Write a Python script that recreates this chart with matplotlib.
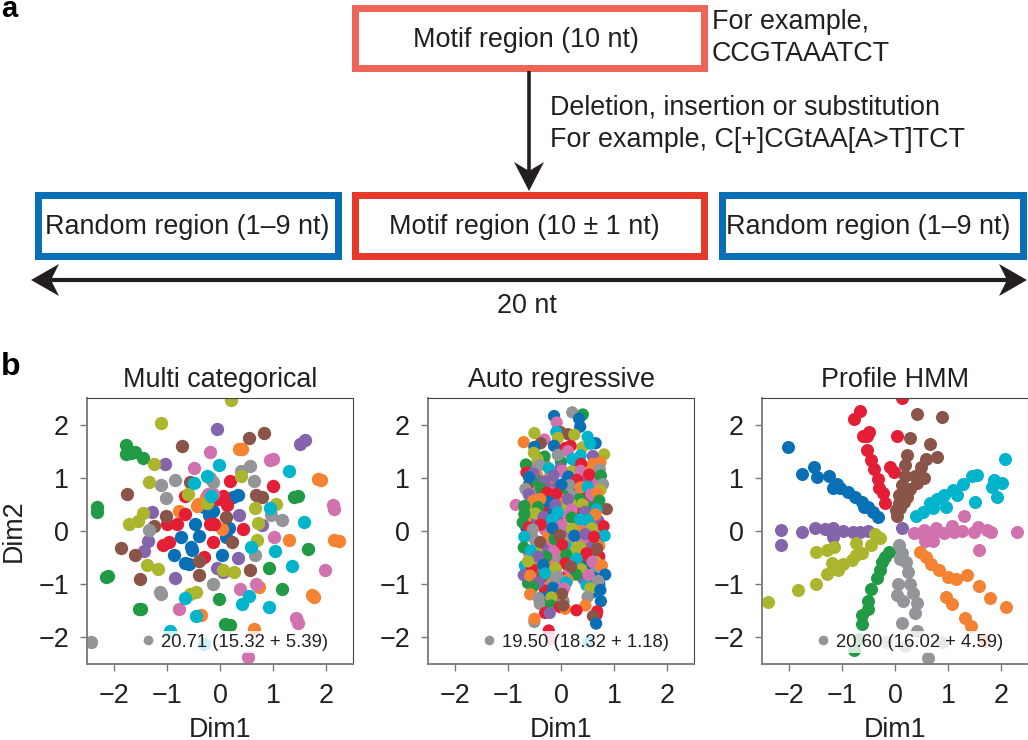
import matplotlib
matplotlib.use('Agg')
import matplotlib.pyplot as plt
from matplotlib.lines import Line2D
from matplotlib.patches import Polygon, Rectangle

plt.rcParams['font.family'] = ['Liberation Sans', 'DejaVu Sans']

palette = {'b': '#0a70b5', 'o': '#f58233', 'g': '#229a45', 'r': '#e41f35', 'p': '#8465ac',
           'n': '#8a5548', 'k': '#d172ae', 'y': '#939598', 'l': '#acb52e', 'c': '#00b4cc'}
ink = '#231f20'

# Multi categorical
mc_points = {
    'b': [(0.33, 0.68), (0.25, 0.64), (-0.30, 0.46), (-0.21, 0.31), (-0.14, 0.38), (-0.47, 0.14), (0.16, 0.06),
          (0.11, -0.11), (-0.74, -0.11), (-0.39, -0.10), (-0.55, -0.31), (-0.53, -0.36), (-0.87, -0.45), (0.04, -0.45),
          (-0.66, -0.61), (-0.58, -0.62)],
    'o': [(0.36, 1.54), (0.42, 1.55), (1.89, 0.96), (1.84, 0.97), (-0.27, 0.64), (-0.44, 0.47), (-0.41, 0.51), (-0.78, 0.38),
          (0.04, 0.04), (1.30, -0.16), (2.14, -0.17), (2.23, -0.18), (0.74, -1.05), (1.73, -1.21), (1.76, -1.24),
          (-0.35, -1.57), (0.63, -1.84)],
    'g': [(-1.77, 1.62), (-1.76, 1.45), (-1.60, 1.49), (-1.67, 1.47), (-1.45, 1.37), (-2.31, 0.46), (-2.31, 0.36), (-2.15, -0.86),
          (-2.11, -0.84), (-1.53, -1.47), (-1.48, -1.46), (1.40, 0.64), (1.46, 0.66), (1.65, -0.33), (0.92, -0.69), (1.16, -1.09),
          (-0.01, -1.27), (0.09, -1.74), (0.18, -1.77)],
    'r': [(0.19, 0.94), (0.99, 0.84), (-0.65, 0.65), (0.05, 0.65), (-0.03, 0.60), (0.14, 0.48), (-0.65, 0.32), (-1.00, 0.13),
          (-0.80, 0.14), (-0.19, 0.13), (-0.11, 0.14), (0.43, 0.03), (-0.13, -0.21), (-0.96, -0.20), (-1.08, -0.27),
          (-0.30, -0.48)],
    'p': [(-0.05, 1.91), (1.60, 1.71), (1.51, 1.64), (-1.03, 1.26), (-1.28, 0.36), (0.36, 0.31), (0.79, 0.11), (-1.35, -0.19),
          (-1.42, -0.37), (0.33, -0.50), (-0.06, -0.69), (0.06, -0.77), (-0.84, -0.89)],
    'n': [(0.54, 1.74), (0.82, 1.84), (-0.71, 1.60), (-1.75, 0.69), (-0.57, 0.93), (0.68, 0.67), (0.79, 0.64), (-1.01, 0.28),
          (-1.25, 0.09), (0.11, 0.26), (0.23, -0.20), (-1.86, -0.32), (-1.59, -0.46), (-0.39, -0.56), (-0.40, -0.83),
          (-1.51, -0.91), (0.57, -0.74)],
    'k': [(-0.19, 1.49), (0.94, 1.34), (1.00, 1.36), (-0.49, 1.19), (-0.22, 0.70), (-0.13, 0.69), (2.12, 0.49), (2.15, 0.41), (1.01, -0.11),
          (1.97, -0.74), (0.68, -0.99), (0.37, -1.09), (-0.77, -1.47), (1.43, -1.63), (1.47, -1.73), (0.52, -2.37)],
    'y': [(0.57, 1.22), (0.39, 1.13), (-1.11, 0.86), (-0.84, 0.95), (-0.13, 0.93), (-0.18, 0.99), (0.63, 0.94), (-1.02, 0.62),
          (0.96, 0.30), (1.16, 0.21), (-1.33, 0.02), (0.66, -0.45), (-0.13, -0.99), (-1.12, -1.14), (-1.11, -1.18), (-2.42, -2.09)],
    'l': [(0.21, 2.47), (-1.10, 2.03), (-1.24, 1.26), (-1.33, 0.92), (0.39, 1.03), (-1.45, 0.34), (-1.54, 0.18), (-1.71, 0.13),
          (-0.61, 0.70), (-0.25, 0.53), (0.66, 0.43), (1.05, 0.50), (0.72, 0.15), (0.70, -0.17), (-1.38, -0.64), (-1.16, -0.72),
          (0.06, -0.74), (0.26, -0.77), (-0.45, -1.14), (-0.57, -1.18)],
    'c': [(-0.01, 1.24), (1.29, 1.13), (-0.24, 1.03), (-0.48, 0.91), (-0.16, 0.65), (0.94, 0.44), (1.57, 0.16), (0.59, -0.30),
          (1.03, -0.38), (1.36, -0.65), (-0.65, -1.26), (0.55, -1.23), (0.41, -1.38), (0.92, -1.43), (-0.45, -1.59),
          (-0.94, -1.88), (-0.31, -2.12)],
}

# Auto regressive, kept in drawing order because the colours overlap
ar_under = [
    (-0.55, 1.20, 'k'), (-0.30, 1.25, 'o'), (0.00, 1.30, 'g'), (0.30, 1.25, 'p'), (0.55, 1.15, 'l'), (-0.45, 1.05, 'o'),
    (-0.15, 1.10, 'r'), (0.10, 1.05, 'c'), (0.42, 1.05, 'n'), (0.65, 1.00, 'k'), (-0.60, 0.88, 'n'), (-0.40, 0.85, 'l'),
    (-0.18, 0.88, 'p'), (0.05, 0.75, 'g'), (0.25, 0.78, 'b'), (0.60, 0.85, 'k'), (-0.50, 0.70, 'k'), (-0.28, 0.58, 'l'),
    (-0.02, 0.60, 'o'), (0.22, 0.66, 'y'), (0.45, 0.66, 'r'), (0.62, 0.55, 'p'), (-0.62, 0.50, 'c'), (-0.35, 0.42, 'r'),
    (-0.15, 0.35, 'b'), (0.08, 0.45, 'l'), (0.32, 0.45, 'k'), (0.55, 0.42, 'g'), (-0.58, 0.30, 'o'), (-0.30, 0.22, 'y'),
    (-0.05, 0.18, 'r'), (0.15, 0.30, 'k'), (0.42, 0.28, 'o'), (0.70, 0.20, 'p'), (-0.45, 0.18, 'p'), (-0.65, 0.05, 'b'),
    (-0.30, 0.02, 'k'), (-0.02, 0.08, 'c'), (0.28, 0.15, 'n'), (0.50, 0.08, 'k'), (0.72, 0.02, 'y'), (-0.55, -0.10, 'k'),
    (-0.25, -0.12, 'o'), (0.08, -0.05, 'p'), (0.35, -0.12, 'c'), (0.60, -0.18, 'g'), (-0.42, -0.25, 'c'), (-0.18, -0.28, 'k'),
    (0.15, -0.22, 'l'), (0.42, -0.22, 'k'), (0.72, -0.28, 'o'), (-0.60, -0.42, 'k'), (-0.32, -0.35, 'p'), (-0.02, -0.38, 'o'),
    (0.22, -0.38, 'p'), (0.52, -0.42, 'c'), (0.72, -0.48, 'r'), (-0.50, -0.58, 'o'), (-0.22, -0.55, 'k'), (0.00, -0.55, 'y'),
    (0.32, -0.55, 'o'), (0.50, -0.62, 'b'), (-0.68, -0.65, 'c'), (-0.38, -0.70, 'g'), (-0.10, -0.72, 'p'), (0.15, -0.75, 'k'),
    (0.38, -0.72, 'l'), (0.68, -0.75, 'y'), (-0.50, -0.80, 'y'), (-0.25, -0.90, 'o'), (0.00, -0.88, 'r'), (0.42, -0.90, 'p'),
    (0.62, -0.88, 'b'), (-0.62, -0.98, 'g'), (-0.38, -1.00, 'k'), (-0.12, -0.98, 'y'), (0.48, -1.02, 'c'), (0.72, -1.00, 'b'),
    (-0.30, -1.12, 'r'), (0.00, -1.05, 'k'), (0.60, -1.15, 'b'), (-0.10, -1.30, 'n'), (-0.30, -1.25, 'b'), (0.05, -1.32, 'y'),
    (-0.45, 0.95, 'g'), (-0.22, 1.00, 'o'), (0.20, 1.12, 'l'), (0.48, 0.92, 'p'), (-0.55, 0.40, 'l'), (-0.20, 0.72, 'k'),
    (0.10, 0.88, 'o'), (0.35, 0.60, 'g'), (0.60, 0.68, 'y'), (-0.08, 0.28, 'p'), (0.30, 0.05, 'o'), (-0.48, -0.18, 'y'),
    (-0.12, -0.15, 'g'), (0.22, -0.10, 'k'), (0.55, -0.32, 'p'), (-0.45, -0.42, 'l'), (0.10, -0.30, 'c'), (0.40, -0.48, 'n'),
    (0.65, -0.58, 'l'), (-0.55, -0.72, 'r'), (-0.20, -0.68, 'o'), (0.28, -0.82, 'g'), (-0.35, -0.85, 'n'), (0.12, -0.92, 'o'),
]
ar_over = [
    (0.21, 2.23, 'y'), (0.41, 2.19, 'g'), (-0.13, 2.16, 'b'), (0.34, 2.11, 'b'), (-0.08, 2.04, 'k'), (0.36, 1.96, 'b'),
    (-0.50, 1.84, 'l'), (-0.01, 1.86, 'n'), (-0.09, 1.86, 'c'), (0.13, 1.82, 'n'), (0.25, 1.81, 'l'), (-0.06, 1.75, 'l'),
    (-0.31, 1.72, 'k'), (0.50, 1.77, 'c'), (-0.70, 1.67, 'o'), (-0.38, 1.65, 'n'), (0.65, 1.65, 'b'), (0.40, 1.57, 'l'),
    (0.55, 1.64, 'c'), (-0.50, 1.58, 'b'), (-0.13, 1.60, 'b'), (0.18, 1.60, 'r'), (0.08, 1.56, 'r'), (0.13, 1.50, 'k'),
    (0.81, 1.44, 'l'), (0.60, 1.41, 'p'), (0.37, 1.42, 'c'), (-0.51, 1.47, 'l'), (-0.06, 1.43, 'y'), (-0.31, 1.40, 'g'),
    (0.21, 1.35, 'c'), (-0.44, 1.35, 'l'), (0.74, 1.29, 'o'), (0.60, 1.26, 'o'), (-0.66, 1.25, 'g'), (-0.40, 1.24, 'y'),
    (0.38, 1.26, 'r'), (-0.01, 1.18, 'p'), (-0.23, 1.18, 'c'), (0.73, 1.16, 'y'), (0.02, 1.13, 'k'), (0.37, 1.13, 'k'),
    (-0.65, 1.10, 'r'), (-0.52, 1.08, 'p'), (0.53, 1.06, 'r'), (0.75, 1.04, 'g'), (-0.60, 1.01, 'b'), (-0.14, 1.04, 'p'),
    (0.14, 1.02, 'b'), (0.30, 0.96, 'r'), (-0.31, 0.93, 'p'), (0.79, 0.88, 'y'), (0.16, 0.86, 'y'), (0.01, 0.87, 'b'),
    (0.37, 0.82, 'o'), (0.50, 0.82, 'c'), (-0.67, 0.79, 'y'), (-0.38, 0.80, 'g'), (0.74, 0.77, 'l'), (-0.26, 0.72, 'r'),
    (-0.09, 0.70, 'r'), (0.57, 0.69, 'k'), (0.68, 0.71, 'o'), (-0.61, 0.69, 'p'), (-0.23, 0.55, 'b'), (0.18, 0.52, 'l'),
    (0.13, 0.60, 'p'), (0.72, 0.57, 'g'), (-0.52, 0.57, 'o'), (-0.39, 0.60, 'o'), (-0.85, 0.49, 'k'), (-0.69, 0.47, 'g'),
    (-0.43, 0.45, 'g'), (-0.10, 0.49, 'p'), (0.40, 0.50, 'l'), (0.86, 0.41, 'n'), (0.67, 0.41, 'c'), (0.30, 0.33, 'r'),
    (0.45, 0.36, 'p'), (-0.06, 0.35, 'c'), (0.20, 0.40, 'k'), (-0.48, 0.33, 'l'), (-0.69, 0.32, 'g'), (0.65, 0.31, 'o'),
    (-0.33, 0.26, 'p'), (0.20, 0.25, 'g'), (-0.17, 0.21, 'c'), (0.36, 0.22, 'c'), (0.50, 0.21, 'c'), (-0.72, 0.16, 'g'),
    (0.80, 0.09, 'r'), (-0.38, 0.12, 'r'), (0.02, 0.11, 'k'), (-0.61, 0.07, 'r'), (-0.16, 0.05, 'b'), (-0.53, 0.03, 'y'),
    (0.58, 0.05, 'l'), (0.20, 0.04, 'l'), (0.82, -0.09, 'c'), (-0.69, -0.11, 'c'), (-0.03, -0.08, 'n'), (0.25, -0.09, 'b'),
    (0.46, -0.06, 'p'), (0.62, -0.11, 'r'), (-0.39, -0.21, 'n'), (0.02, -0.26, 'r'), (-0.70, -0.31, 'g'), (0.36, -0.30, 'l'),
    (-0.57, -0.37, 'c'), (0.29, -0.34, 'l'), (0.68, -0.33, 'n'), (-0.14, -0.39, 'k'), (0.48, -0.42, 'r'), (0.10, -0.45, 'g'),
    (-0.28, -0.48, 'g'), (-0.43, -0.48, 'p'), (0.29, -0.52, 'c'), (-0.62, -0.57, 'l'), (0.59, -0.58, 'k'), (0.08, -0.61, 'r'),
    (-0.33, -0.64, 'b'), (0.19, -0.67, 'n'), (-0.10, -0.70, 'l'), (0.77, -0.65, 'o'), (-0.30, -0.80, 'c'), (0.83, -0.82, 'b'),
    (0.52, -0.83, 'k'), (-0.70, -0.83, 'p'), (-0.58, -0.84, 'o'), (-0.06, -0.86, 'y'), (0.70, -0.94, 'y'), (0.10, -0.97, 'c'),
    (-0.43, -0.97, 'p'), (-0.53, -1.05, 'g'), (-0.15, -1.07, 'b'), (0.06, -1.08, 'k'), (0.55, -1.08, 'l'), (0.74, -1.11, 'b'),
    (0.02, -1.18, 'n'), (-0.58, -1.19, 'o'), (-0.18, -1.25, 'l'), (0.50, -1.24, 'y'), (-0.42, -1.26, 'y'), (0.75, -1.32, 'b'),
    (-0.40, -1.37, 'y'), (-0.19, -1.40, 'g'), (-0.02, -1.43, 'r'), (0.08, -1.46, 'o'), (0.04, -1.40, 'n'), (0.46, -1.40, 'o'),
    (0.29, -1.49, 'r'), (0.68, -1.51, 'r'), (-0.30, -1.54, 'r'), (-0.21, -1.54, 'p'), (0.67, -1.57, 'r'), (0.60, -1.60, 'n'),
    (0.66, -1.74, 'b'), (-0.50, -1.71, 'y'), (-0.50, -1.65, 'o'), (-0.23, -1.87, 'r'), (-0.20, -2.03, 'k'), (0.52, -2.09, 'c'),
]

# Profile HMM
ph_points = {
    'b': [(-2.02, 1.58), (-1.52, 1.21), (-1.74, 1.08), (-1.47, 1.01), (-1.25, 1.04), (-1.09, 0.89), (-1.17, 0.81), (-1.04, 0.81),
          (-0.89, 0.73), (-0.75, 0.64), (-0.62, 0.55), (-0.59, 0.46), (-0.50, 0.46), (-0.42, 0.36), (-0.32, 0.26)],
    'o': [(0.47, -0.40), (0.59, -0.48), (0.68, -0.62), (0.83, -0.74), (0.99, -0.87), (1.14, -0.90), (1.35, -0.83), (1.58, -1.04),
          (1.78, -1.26), (2.08, -1.43), (0.96, -1.24), (1.08, -1.37), (1.31, -1.63), (1.42, -1.79), (1.67, -2.06)],
    'g': [(-0.12, -0.39), (-0.18, -0.48), (-0.25, -0.58), (-0.28, -0.74), (-0.34, -0.89), (-0.45, -1.09), (-0.51, -1.31),
          (-0.51, -1.47), (-0.62, -1.57), (-0.62, -1.75), (-0.67, -2.03), (-0.78, -2.23)],
    'r': [(-0.65, 2.25), (-0.78, 2.11), (-0.48, 1.87), (-0.60, 1.78), (-0.53, 1.79), (-0.52, 1.53), (-0.45, 1.34), (-0.40, 1.17),
          (-0.32, 0.98), (-0.31, 0.81), (-0.23, 0.71), (-0.19, 0.53), (0.04, 1.79), (-0.10, 1.20), (-0.01, 1.10), (0.14, 2.50)],
    'p': [(0.13, 0.06), (-0.50, 0.00), (-0.65, -0.01), (-0.79, -0.02), (-0.98, 0.00), (-1.16, 0.05), (-1.31, 0.03), (-1.17, -0.11),
          (-1.51, 0.06), (-1.75, -0.01), (-2.15, 0.01), (-2.14, -0.26)],
    'n': [(0.41, 2.19), (0.89, 2.14), (0.29, 1.74), (0.65, 1.64), (0.23, 1.43), (0.58, 1.36), (0.79, 1.39), (0.19, 1.25), (0.48, 1.20),
          (0.18, 1.04), (0.55, 1.00), (0.38, 1.04), (0.13, 0.87), (0.42, 0.91), (0.29, 0.79), (0.08, 0.68), (0.23, 0.64), (0.07, 0.52),
          (0.16, 0.55), (0.01, 0.40), (0.10, 0.43), (0.04, 0.28)],
    'k': [(1.30, 0.28), (2.29, -0.02), (1.80, -0.02), (1.56, 0.08), (1.48, -0.02), (1.72, 0.02), (1.58, -0.35), (1.26, 0.00), (1.08, 0.10),
          (1.11, -0.02), (0.93, -0.03), (0.78, 0.06), (0.73, -0.03), (0.54, 0.02), (0.57, -0.18), (0.71, -0.19), (0.36, -0.03), (0.48, -0.03)],
    'y': [(0.08, -0.26), (0.14, -0.42), (0.10, -0.52), (0.21, -0.58), (0.24, -0.78), (0.06, -0.99), (0.29, -0.99), (0.34, -1.16),
          (0.04, -1.20), (0.15, -1.31), (0.42, -1.36), (0.38, -1.55), (0.14, -1.72), (0.42, -1.88), (-0.17, -2.09), (0.19, -2.16),
          (0.89, -2.09), (0.62, -2.39)],
    'l': [(-0.37, -0.06), (-0.29, -0.14), (-0.46, -0.26), (-0.74, -0.22), (-0.62, -0.41), (-0.74, -0.45), (-0.81, -0.55), (-0.98, -0.62),
          (-1.08, -0.74), (-1.19, -0.61), (-1.14, -0.31), (-1.27, -0.36), (-1.48, -0.40), (-1.28, -0.80), (-1.48, -0.99), (-1.83, -1.11),
          (-2.38, -1.33)],
    'c': [(2.07, 1.36), (1.86, 0.95), (2.02, 0.90), (1.83, 0.82), (1.92, 0.63), (1.50, 0.55), (1.55, 1.06), (1.45, 1.03), (1.28, 0.89),
          (1.09, 0.77), (1.17, 0.67), (0.93, 0.68), (0.79, 0.60), (0.95, 0.46), (0.65, 0.52), (0.72, 0.43), (0.52, 0.36), (0.40, 0.28)],
}

panel_titles = ['Multi categorical', 'Auto regressive', 'Profile HMM']
legend_labels = ['20.71 (15.32 + 5.39)', '19.50 (18.32 + 1.18)', '20.60 (16.02 + 4.59)']
axis_ticks = [-2, -1, 0, 1, 2]
font_big = 19.4

W, H = 1028, 740
fig = plt.figure(figsize=(W / 100, H / 100), dpi=100)

# whole figure in pixels for the diagram on top
bg = fig.add_axes([0, 0, 1, 1])
bg.set_xlim(0, W)
bg.set_ylim(H, 0)
bg.axis('off')


def box(x0, x1, y0, y1, color, text, text_x):
    t = 7
    bg.add_patch(Rectangle((x0 + t / 2, y0 + t / 2), x1 - x0 - t, y1 - y0 - t,
                           fc='white', ec=color, lw=t * 0.72))
    bg.text(text_x, (y0 + y1) / 2 + 2.5, text, ha='center', va='center', fontsize=font_big, color=ink)


box(351, 707, 4, 71, '#ef6557', 'Motif region (10 nt)', 525.5)
box(34, 341, 191, 259, '#0a70b5', 'Random region (1–9 nt)', 187)
box(351, 707, 191, 259, '#e53a2a', 'Motif region (10 ± 1 nt)', 524.5)
box(718, 1026, 191, 259, '#0a70b5', 'Random region (1–9 nt)', 868.5)

# arrows with notched heads
bg.plot([529, 529], [71, 175], color=ink, lw=2.6, solid_capstyle='butt')
bg.add_patch(Polygon([(529, 191), (514, 162), (529, 171), (544, 162)], fc=ink, ec='none'))
bg.plot([45, 1013], [280, 280], color=ink, lw=3, solid_capstyle='butt')
bg.add_patch(Polygon([(31, 280), (59, 264), (51, 280), (59, 296)], fc=ink, ec='none'))
bg.add_patch(Polygon([(1027, 280), (999, 264), (1007, 280), (999, 296)], fc=ink, ec='none'))

bg.text(712, 22, 'For example,', ha='left', va='center', fontsize=font_big, color=ink)
bg.text(712, 54, 'CCGTAAATCT', ha='left', va='center', fontsize=font_big, color=ink)
bg.text(550, 108, 'Deletion, insertion or substitution', ha='left', va='center', fontsize=font_big, color=ink)
bg.text(550, 140, 'For example, C[+]CGtAA[A>T]TCT', ha='left', va='center', fontsize=font_big, color=ink)
bg.text(527, 306, '20 nt', ha='center', va='center', fontsize=font_big, color=ink)
bg.text(1, 17, 'a', ha='left', va='baseline', fontsize=21, fontweight='bold', color='black')
bg.text(1, 375, 'b', ha='left', va='baseline', fontsize=23, fontweight='bold', color='black')

# scatter panels
panel_left = [87, 428, 762]
panel_w = 266
panel_top, panel_bottom = 398, 664
axes = []
for left in panel_left:
    ax = fig.add_axes([left / W, 1 - panel_bottom / H, panel_w / W, (panel_bottom - panel_top) / H])
    axes.append(ax)

for pts, ax, size in ((mc_points, axes[0], 92), (ph_points, axes[2], 88)):
    for key, p in pts.items():
        ax.scatter([v[0] for v in p], [v[1] for v in p], s=size, color=palette[key], linewidths=0)

ar_points = ar_under + ar_over
axes[1].scatter([v[0] for v in ar_points], [v[1] for v in ar_points], s=78,
                color=[palette[v[2]] for v in ar_points], linewidths=0)

for i, ax in enumerate(axes):
    ax.set_xlim(-2.5, 2.5)
    ax.set_ylim(-2.5, 2.5)
    ax.set_xticks(axis_ticks)
    ax.set_yticks(axis_ticks)
    ax.tick_params(labelsize=19.4, colors=ink, length=5, width=1, color='#777777')
    ax.tick_params(axis='x', pad=9)
    ax.tick_params(axis='y', pad=8)
    ax.set_title(panel_titles[i], fontsize=font_big, color=ink, pad=8)
    ax.set_xlabel('Dim1', fontsize=font_big, color=ink, labelpad=5.5)
    for side in ('left', 'bottom'):
        ax.spines[side].set_color('#808080')
        ax.spines[side].set_linewidth(1.4)
    for side in ('top', 'right'):
        ax.spines[side].set_color('#444444')
        ax.spines[side].set_linewidth(0.8)
    handle = Line2D([], [], ls='none', marker='o', ms=7, mew=0, color=palette['y'])
    ax.legend([handle], [legend_labels[i]], loc='lower left', bbox_to_anchor=(0.178, 0.04), borderaxespad=0,
              fontsize=13.3, framealpha=0.8, edgecolor='none', fancybox=False, borderpad=0.15,
              handletextpad=0.1, handlelength=1.2, labelcolor=ink)
axes[0].set_ylabel('Dim2', fontsize=font_big, color=ink, labelpad=8)

fig.savefig('out.png', dpi=100)
